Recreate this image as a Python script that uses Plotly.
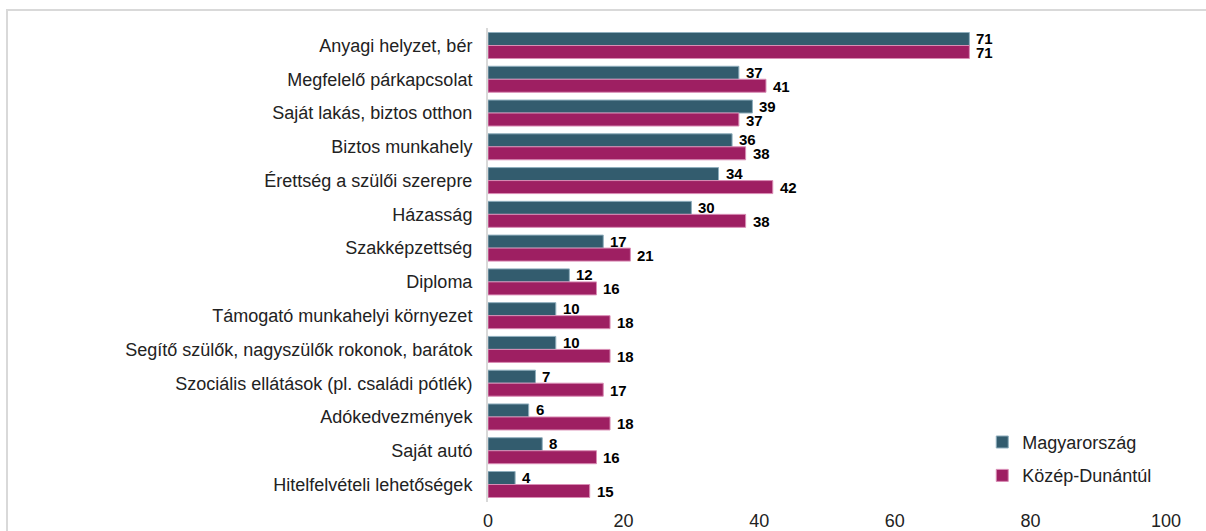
import plotly.graph_objects as go

categories = [
    "Anyagi helyzet, bér",
    "Megfelelő párkapcsolat",
    "Saját lakás, biztos otthon",
    "Biztos munkahely",
    "Érettség a szülői szerepre",
    "Házasság",
    "Szakképzettség",
    "Diploma",
    "Támogató munkahelyi környezet",
    "Segítő szülők, nagyszülők rokonok, barátok",
    "Szociális ellátások (pl. családi pótlék)",
    "Adókedvezmények",
    "Saját autó",
    "Hitelfelvételi lehetőségek",
]
magyarorszag = [71, 37, 39, 36, 34, 30, 17, 12, 10, 10, 7, 6, 8, 4]
kozep_dunantul = [71, 41, 37, 38, 42, 38, 21, 16, 18, 18, 17, 18, 16, 15]
x_ticks = [0, 20, 40, 60, 80, 100]

FONT = "Liberation Sans, Arial, sans-serif"
TXT = "#222222"

fig = go.Figure()
fig.add_trace(go.Bar(
    y=categories, x=magyarorszag, name="Magyarország", orientation="h",
    legendgroup="m",
    marker=dict(color="#335C6E", line=dict(color="#8FAEBD", width=1)),
))
fig.add_trace(go.Bar(
    y=categories, x=kozep_dunantul, name="Közép-Dunántúl", orientation="h",
    legendgroup="k",
    marker=dict(color="#9E1F62", line=dict(color="#D98DB5", width=1)),
))

# value labels, placed through the axes (data coordinates) with pixel offsets
for cat, v in zip(categories, magyarorszag):
    fig.add_annotation(x=v, y=cat, text=f"<b>{v}</b>", showarrow=False,
                       xanchor="left", yanchor="middle", xshift=5, yshift=7,
                       font=dict(family=FONT, size=15, color="black"))
for cat, v in zip(categories, kozep_dunantul):
    fig.add_annotation(x=v, y=cat, text=f"<b>{v}</b>", showarrow=False,
                       xanchor="left", yanchor="middle", xshift=5, yshift=-7,
                       font=dict(family=FONT, size=15, color="black"))

fig.update_layout(
    width=1206, height=531,
    margin=dict(l=488, r=40, t=28, b=29),
    barmode="group", bargap=0.23, bargroupgap=0,
    plot_bgcolor="white", paper_bgcolor="white",
    font=dict(family=FONT, size=18, color=TXT),
    showlegend=True,
    legend=dict(x=0.729, y=0.165, xanchor="left", yanchor="top",
                font=dict(size=18, family=FONT, color=TXT),
                itemwidth=30, tracegroupgap=7, traceorder="grouped",
                bgcolor="rgba(0,0,0,0)"),
)
fig.update_xaxes(range=[0, 100], tickvals=x_ticks, showgrid=False, zeroline=False,
                 showline=False, ticks="", ticklabelstandoff=6, automargin=False,
                 tickfont=dict(size=18, family=FONT, color=TXT))
fig.update_yaxes(autorange="reversed", showgrid=False, zeroline=False,
                 showline=True, linecolor="#D9D9D9", linewidth=2, ticks="",
                 ticklabelstandoff=10, automargin=False,
                 tickfont=dict(size=18, family=FONT, color=TXT))

# outer frame (light gray border of the chart area)
fig.add_shape(type="rect", xref="paper", yref="paper",
              x0=(7 - 488) / 678, x1=(1230 - 488) / 678,
              y0=(502 - 560) / 474, y1=(502 - 10) / 474,
              line=dict(color="#D9D9D9", width=2), fillcolor="rgba(0,0,0,0)",
              layer="below")

fig.write_html("out.html", config={"displayModeBar": False},
               post_script="document.body.style.margin='0';document.body.style.overflow='hidden';")
